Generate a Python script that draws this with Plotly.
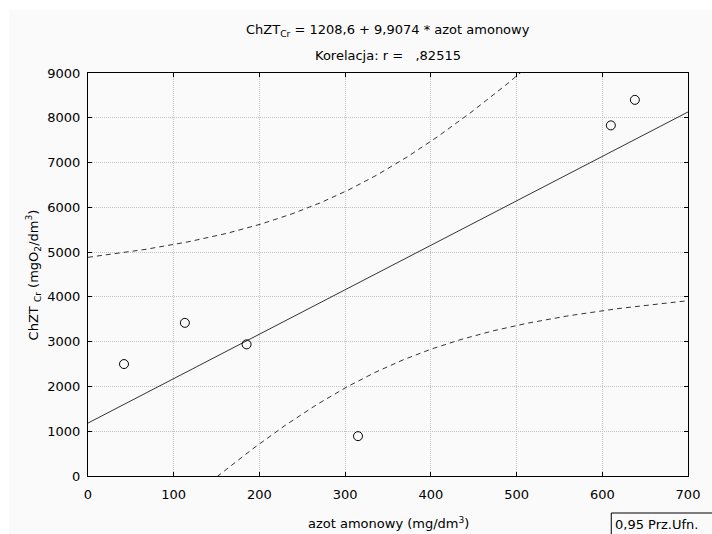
import numpy as np
import plotly.graph_objects as go

# data
azot = [42, 113, 185, 315, 610, 638]
chzt = [2500, 3420, 2940, 890, 7830, 8400]
x_ticks = [0, 100, 200, 300, 400, 500, 600, 700]
y_ticks = [0, 1000, 2000, 3000, 4000, 5000, 6000, 7000, 8000, 9000]
t_975_df4 = 2.7764

x = np.array(azot, float)
y = np.array(chzt, float)
n = len(x)
b, a = np.polyfit(x, y, 1)
res = y - (a + b * x)
s = np.sqrt((res ** 2).sum() / (n - 2))
xm = x.mean()
sxx = ((x - xm) ** 2).sum()
xg = np.linspace(0, 700, 301)
yg = a + b * xg
hw = t_975_df4 * s * np.sqrt(1 / n + (xg - xm) ** 2 / sxx)

L, R, T, B = 88, 698, 73, 476
W, H = R - L, B - T
def px(v): return (v - L) / W
def py(v): return (B - v) / H

FONT = "DejaVu Sans, Verdana, sans-serif"
fig = go.Figure()
fig.add_trace(go.Scatter(x=xg, y=yg, mode="lines", line=dict(color="#333333", width=1), hoverinfo="skip"))
fig.add_trace(go.Scatter(x=xg, y=yg + hw, mode="lines", line=dict(color="#333333", width=1, dash="5px,4px"), hoverinfo="skip"))
fig.add_trace(go.Scatter(x=xg, y=yg - hw, mode="lines", line=dict(color="#333333", width=1, dash="5px,4px"), hoverinfo="skip"))
fig.add_trace(go.Scatter(x=azot, y=chzt, mode="markers",
                         marker=dict(symbol="circle-open", size=9, color="black", line=dict(width=1, color="black"))))

axis_common = dict(showline=True, linecolor="black", linewidth=1, mirror="ticks", ticks="inside", ticklen=4,
                   tickcolor="black", showgrid=True, gridcolor="#c4c4c4", griddash="1px,1px", gridwidth=1,
                   zeroline=False, tickfont=dict(family=FONT, size=13, color="black"))
fig.update_xaxes(range=[0, 700], tickvals=x_ticks, ticktext=[str(v) for v in x_ticks],
                 ticklabelstandoff=6, **axis_common)
fig.update_yaxes(range=[0, 9000], tickvals=y_ticks, ticktext=[str(v) for v in y_ticks],
                 ticklabelstandoff=4, **axis_common)

fig.add_shape(type="rect", xref="paper", yref="paper", x0=px(8), x1=px(730), y0=py(550), y1=py(10),
              fillcolor="#fafafa", line=dict(width=0), layer="below")
fig.add_shape(type="rect", xref="paper", yref="paper", x0=px(620), x1=px(740), y0=py(560), y1=py(513),
              fillcolor="rgba(0,0,0,0)", line=dict(width=1, color="black"))

ann = [
    dict(text="ChZT<sub>Cr</sub> = 1208,6 + 9,9074 * azot amonowy", x=0.5, y=py(30)),
    dict(text="Korelacja: r =\u00a0\u00a0\u00a0,82515", x=0.5, y=py(55)),
    dict(text="azot amonowy (mg/dm<sup>3</sup>)", x=0.5, y=py(523)),
]
for a_ in ann:
    fig.add_annotation(xref="paper", yref="paper", showarrow=False, xanchor="center", yanchor="middle",
                       font=dict(family=FONT, size=13, color="black"), **a_)
fig.add_annotation(xref="paper", yref="paper", showarrow=False, xanchor="center", yanchor="middle",
                   x=px(32), y=0.5, textangle=-90, font=dict(family=FONT, size=13, color="black"),
                   text="ChZT <sub>Cr</sub> (mgO<sub>2</sub>/dm<sup>3</sup>)")
fig.add_annotation(xref="paper", yref="paper", showarrow=False, xanchor="left", yanchor="middle",
                   x=px(622), y=py(524), font=dict(family=FONT, size=13, color="black"), text="0,95 Prz.Ufn.")

fig.update_layout(width=712, height=534, margin=dict(l=L, r=712 - R, t=T, b=534 - B),
                  paper_bgcolor="white", plot_bgcolor="white", showlegend=False,
                  font=dict(family=FONT, size=13, color="black"))
fig.write_html("out.html", config={"displayModeBar": False},
               post_script="document.body.style.margin='0px';document.body.style.overflow='hidden';")
